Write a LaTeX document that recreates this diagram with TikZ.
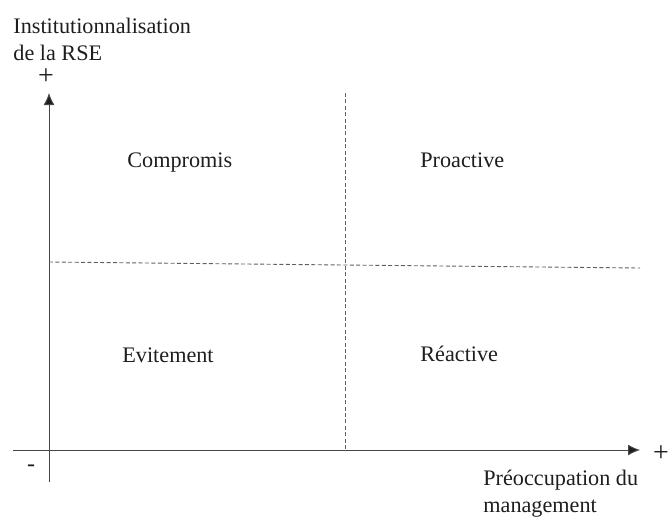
\documentclass[tikz,border=0pt]{standalone}
\usepackage{fontspec}
\setmainfont{Liberation Serif}
\usepackage{tikz}
\usetikzlibrary{
  arrows.meta,
  positioning
}
\definecolor{AxisGray}{RGB}{70,70,70}
\definecolor{GridGray}{RGB}{95,95,95}
\definecolor{LabelBlack}{RGB}{30,30,30}
\tikzset{
  axisline/.style={-{Latex[length=6pt,width=5.5pt,fill=LabelBlack]},draw=AxisGray,line width=0.5pt},
  gridline/.style={draw=GridGray,line width=0.45pt,dash pattern=on 2pt off 1.2pt},
  quadlabel/.style={inner sep=0pt,anchor=base west,text=LabelBlack,font=\fontsize{11.1}{13.5}\selectfont},
  axislabel/.style={inner sep=0pt,anchor=north west,align=left,text=LabelBlack,font=\fontsize{11.1}{13.5}\selectfont},
  signlabel/.style={inner sep=0pt,text=LabelBlack,font=\fontsize{14}{16}\selectfont}
}

\begin{document}
\begin{tikzpicture}[x=0.5pt,y=-0.5pt]
\useasboundingbox (0,0) rectangle (669,516);

% axes
\coordinate (ybot) at (49,482);
\coordinate (ytop) at (49,93);
\coordinate (xleft) at (13,450);
\coordinate (xright) at (640,450);
\draw[axisline] (ybot) -- (ytop);
\draw[axisline] (xleft) -- (xright);

% quadrant borders
\coordinate (vtop) at (345,93);
\coordinate (vbot) at (345,450);
\coordinate (hleft) at (49,262);
\coordinate (hright) at (640,268);
\draw[gridline] (vtop) -- (vbot);
\draw[gridline] (hleft) -- (hright);

% quadrants
\node[quadlabel] (compromis) at (127,167) {Compromis};
\node[quadlabel] (proactive) at (420,167) {Proactive};
\node[quadlabel] (evitement) at (122,362) {Evitement};
\node[quadlabel] (reactive) at (420,361) {Réactive};

% axis labels
\node[axislabel] (ylab) at (13,18) {Institutionnalisation\\de la RSE};
\node[axislabel] (xlab) at (483,470) {Préoccupation du\\management};
\node[signlabel] (yplus) at (46,77) {+};
\node[signlabel] (xplus) at (661,454) {+};
\node[signlabel,font=\fontsize{12}{14}\selectfont] (minus) at (31,468) {-};
\end{tikzpicture}
\end{document}
